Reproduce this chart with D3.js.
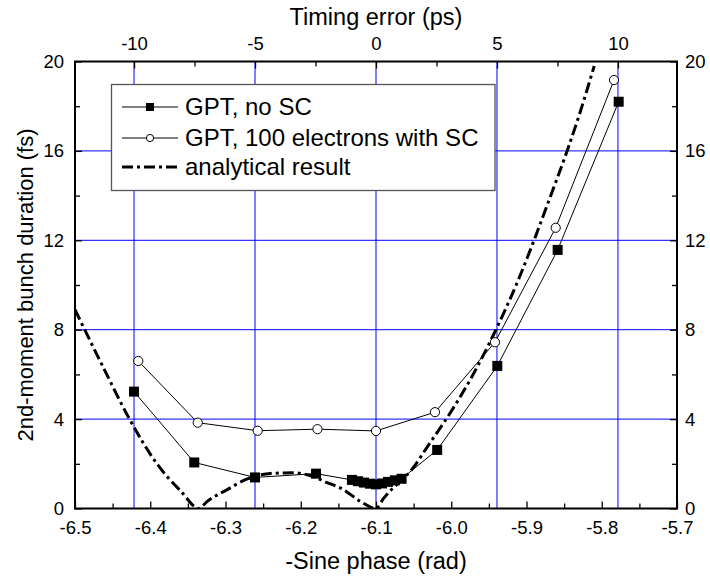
<!DOCTYPE html>
<html><head><meta charset="utf-8">
<script src="https://cdn.jsdelivr.net/npm/d3@7"></script>
<style>
body{margin:0;background:#fff}
svg{display:block}
text{font-family:"Liberation Sans",Arial,sans-serif;fill:#000}
</style>
</head><body>
<svg id="c" width="710" height="577"></svg>
<script>
// ---------- data ----------
const phaseTicks = [-6.5, -6.4, -6.3, -6.2, -6.1, -6.0, -5.9, -5.8, -5.7];
const phaseMinor = [-6.45, -6.35, -6.25, -6.15, -6.05, -5.95, -5.85, -5.75];
const timingDomain = [-12.44, 12.44];
const timingTicks = [-10, -5, 0, 5, 10];
const timingMinor = [-7.5, -2.5, 2.5, 7.5];
const durationTicks = [0, 4, 8, 12, 16, 20];
const durationMinor = [2, 6, 10, 14, 18];
const gridDuration = [4, 8, 12, 16];

const noScPhase    = [-6.4216, -6.3415, -6.2608, -6.1797, -6.132, -6.124, -6.116, -6.108, -6.100, -6.092, -6.084, -6.075, -6.066, -6.0187, -5.9388, -5.8586, -5.7775];
const noScDuration = [5.23, 2.06, 1.39, 1.56, 1.28, 1.22, 1.16, 1.11, 1.08, 1.12, 1.19, 1.26, 1.33, 2.62, 6.38, 11.57, 18.2];

const scPhase    = [-6.4159, -6.3369, -6.2572, -6.1778, -6.1, -6.0216, -5.9419, -5.8612, -5.7837];
const scDuration = [6.6, 3.84, 3.48, 3.55, 3.47, 4.31, 7.44, 12.56, 19.17];

const anPhase    = [-6.5, -6.49, -6.46, -6.43, -6.39, -6.36, -6.335, -6.325, -6.30, -6.27, -6.24, -6.21, -6.19, -6.165, -6.145, -6.12, -6.1, -6.09, -6.05, -6.03, -6.0, -5.975, -5.95, -5.935, -5.91, -5.89, -5.87, -5.845, -5.83, -5.81];
const anDuration = [8.9, 8.2, 6.15, 4.15, 1.95, 0.8, 0.0, 0.3, 0.8, 1.34, 1.57, 1.6, 1.5, 1.16, 0.88, 0.3, 0.0, 0.45, 1.85, 2.85, 4.35, 5.75, 7.35, 8.4, 10.3, 12.0, 13.8, 16.1, 17.6, 19.8];

const legendLabels = ["GPT, no SC", "GPT, 100 electrons with SC", "analytical result"];
const xTitle = "-Sine phase (rad)";
const xTopTitle = "Timing error (ps)";
const yTitle = "2nd-moment bunch duration (fs)";

// ---------- layout ----------
const L = 75, R = 677, T = 61.5, B = 508.5;
const svg = d3.select("#c");
const x = d3.scaleLinear().domain([-6.5, -5.7]).range([L, R]);
const xt = d3.scaleLinear().domain(timingDomain).range([L, R]);
const y = d3.scaleLinear().domain([0, 20]).range([B, T]);

svg.append("defs").append("clipPath").attr("id", "clip")
  .append("rect").attr("x", L).attr("y", T).attr("width", R - L).attr("height", B - T);

// grid
const grid = svg.append("g").attr("stroke", "#0000ff").attr("stroke-width", 1);
grid.selectAll(".gv").data(timingTicks).join("line")
  .attr("x1", d => xt(d)).attr("x2", d => xt(d)).attr("y1", T).attr("y2", B);
grid.selectAll(".gh").data(gridDuration).join("line")
  .attr("x1", L).attr("x2", R).attr("y1", d => y(d)).attr("y2", d => y(d));

const plot = svg.append("g").attr("clip-path", "url(#clip)");

// analytical
const anData = anPhase.map((p, i) => [p, anDuration[i]]);
plot.append("path").datum(anData)
  .attr("fill", "none").attr("stroke", "#000").attr("stroke-width", 3)
  .attr("stroke-dasharray", "11,4,3,4")
  .attr("d", d3.line().x(d => x(d[0])).y(d => y(d[1])).curve(d3.curveMonotoneX));

// series lines
const noSc = noScPhase.map((p, i) => [p, noScDuration[i]]);
const sc = scPhase.map((p, i) => [p, scDuration[i]]);
const lineGen = d3.line().x(d => x(d[0])).y(d => y(d[1]));
plot.append("path").datum(noSc).attr("fill", "none").attr("stroke", "#000").attr("stroke-width", 1).attr("d", lineGen);
plot.append("path").datum(sc).attr("fill", "none").attr("stroke", "#000").attr("stroke-width", 1).attr("d", lineGen);

// markers
plot.selectAll(".sq").data(noSc).join("rect")
  .attr("x", d => x(d[0]) - 5).attr("y", d => y(d[1]) - 5)
  .attr("width", 10).attr("height", 10).attr("fill", "#000");
plot.selectAll(".ci").data(sc).join("circle")
  .attr("cx", d => x(d[0])).attr("cy", d => y(d[1])).attr("r", 4.6)
  .attr("fill", "#fff").attr("stroke", "#000").attr("stroke-width", 1);

// axes
function styleAxis(g) {
  g.select(".domain").remove();
  g.selectAll("line").attr("stroke", "#000").attr("stroke-width", 1.3);
  g.selectAll("text").attr("font-size", 18.5).attr("font-family", "Liberation Sans, Arial, sans-serif");
  g.attr("font-size", null).attr("font-family", null);
}
svg.append("g").attr("transform", `translate(0,${B})`)
  .call(d3.axisBottom(x).tickValues(phaseTicks).tickSize(-7).tickPadding(12).tickFormat(d => d.toFixed(1))).call(styleAxis);
svg.append("g").attr("transform", `translate(0,${B})`)
  .call(d3.axisBottom(x).tickValues(phaseMinor).tickSize(-5).tickFormat("")).call(styleAxis);
svg.append("g").attr("transform", `translate(0,${T})`)
  .call(d3.axisTop(xt).tickValues(timingTicks).tickSize(-7).tickPadding(12).tickFormat(d => String(d))).call(styleAxis);
svg.append("g").attr("transform", `translate(0,${T})`)
  .call(d3.axisTop(xt).tickValues(timingMinor).tickSize(-5).tickFormat("")).call(styleAxis);
svg.append("g").attr("transform", `translate(${L},0)`)
  .call(d3.axisLeft(y).tickValues(durationTicks).tickSize(-7).tickPadding(11).tickFormat(d => String(d))).call(styleAxis);
svg.append("g").attr("transform", `translate(${L},0)`)
  .call(d3.axisLeft(y).tickValues(durationMinor).tickSize(-5).tickFormat("")).call(styleAxis);
svg.append("g").attr("transform", `translate(${R},0)`)
  .call(d3.axisRight(y).tickValues(durationTicks).tickSize(-7).tickPadding(8).tickFormat(d => String(d))).call(styleAxis);
svg.append("g").attr("transform", `translate(${R},0)`)
  .call(d3.axisRight(y).tickValues(durationMinor).tickSize(-5).tickFormat("")).call(styleAxis);

// frame
svg.append("rect").attr("x", L).attr("y", T).attr("width", R - L).attr("height", B - T)
  .attr("fill", "none").attr("stroke", "#000").attr("stroke-width", 2);

// titles
svg.append("text").attr("x", (L + R) / 2).attr("y", 569).attr("text-anchor", "middle").attr("font-size", 23.5).text(xTitle);
svg.append("text").attr("x", (L + R) / 2).attr("y", 25).attr("text-anchor", "middle").attr("font-size", 23.5).text(xTopTitle);
svg.append("text").attr("transform", `translate(33,${(T + B) / 2}) rotate(-90)`).attr("text-anchor", "middle").attr("font-size", 22).text(yTitle);

// legend
const lg = svg.append("g");
lg.append("rect").attr("x", 111.5).attr("y", 84.5).attr("width", 383.5).attr("height", 106)
  .attr("fill", "#fff").attr("stroke", "#555").attr("stroke-width", 1.3);
const rowsY = [107, 138, 167];
const lx1 = 122, lx2 = 178, lxm = 150;
// row 1
lg.append("line").attr("x1", lx1).attr("x2", lx2).attr("y1", rowsY[0]).attr("y2", rowsY[0]).attr("stroke", "#000");
lg.append("rect").attr("x", lxm - 4).attr("y", rowsY[0] - 4).attr("width", 8).attr("height", 8).attr("fill", "#000");
// row 2
lg.append("line").attr("x1", lx1).attr("x2", lx2).attr("y1", rowsY[1]).attr("y2", rowsY[1]).attr("stroke", "#000");
lg.append("circle").attr("cx", lxm).attr("cy", rowsY[1]).attr("r", 3.6).attr("fill", "#fff").attr("stroke", "#000");
// row 3
lg.append("line").attr("x1", lx1).attr("x2", lx2).attr("y1", rowsY[2]).attr("y2", rowsY[2])
  .attr("stroke", "#000").attr("stroke-width", 3).attr("stroke-dasharray", "11,4,3,4");
lg.selectAll(".lt").data(legendLabels).join("text")
  .attr("x", 185).attr("y", (d, i) => rowsY[i]).attr("dy", "0.35em").attr("font-size", 24).text(d => d);
</script>
</body></html>
